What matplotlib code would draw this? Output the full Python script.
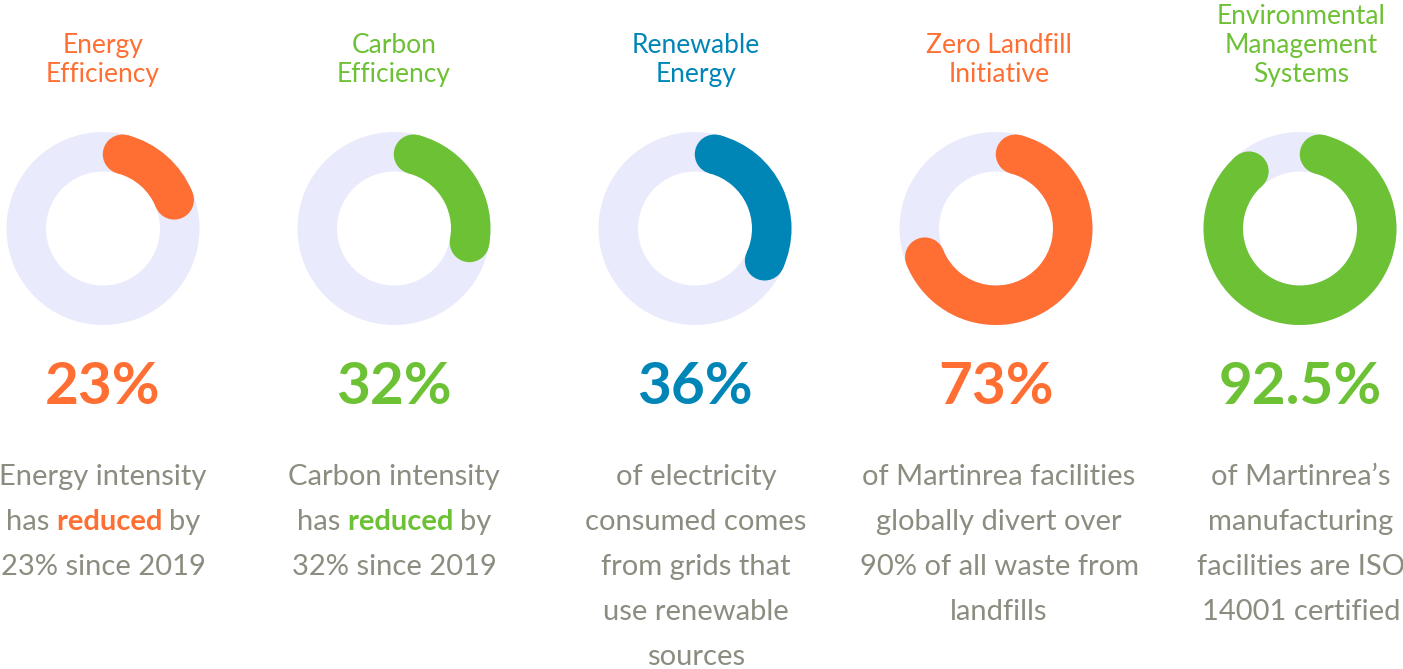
import matplotlib
matplotlib.use("Agg")
import matplotlib.pyplot as plt
from matplotlib.patches import Wedge, Circle
import numpy as np

plt.rcParams['font.family'] = ['Lato', 'DejaVu Sans']

# chart content
titles = [["Energy", "Efficiency"],
          ["Carbon", "Efficiency"],
          ["Renewable", "Energy"],
          ["Zero Landfill", "Initiative"],
          ["Environmental", "Management", "Systems"]]
values = [23, 32, 36, 73, 92.5]
value_text = ["23%", "32%", "36%", "73%", "92.5%"]
colors = ["#FF6F33", "#6CC134", "#0085B7", "#FF6F33", "#6CC134"]
descriptions = [
    ["Energy intensity", "has reduced by", "23% since 2019"],
    ["Carbon intensity", "has reduced by", "32% since 2019"],
    ["of electricity", "consumed comes", "from grids that", "use renewable", "sources"],
    ["of Martinrea facilities", "globally divert over", "90% of all waste from", "landfills"],
    ["of Martinrea\u2019s", "manufacturing", "facilities are ISO", "14001 certified"],
]
highlight = ["reduced", "reduced", None, None, None]

W, H = 1403, 669
fig = plt.figure(figsize=(W / 100, H / 100), dpi=100)
ax = fig.add_axes([0, 0, 1, 1])
ax.set_xlim(0, W)
ax.set_ylim(H, 0)
ax.axis('off')

col_x = [103, 394, 695, 996, 1300]
text_x = [103, 394, 696, 999, 1301]
ring_y = 228.5
r_out, r_in = 96.5, 57
ring_bg = "#E9EAFB"
gray = "#8C8D80"

ring_w = r_out - r_in
r_mid = (r_out + r_in) / 2
cap = np.degrees(ring_w / 2 / r_mid)

title_size = 19
desc_size = 21
num_size = 42

renderer = fig.canvas.get_renderer()


def text_width(s, **kw):
    t = ax.text(0, 0, s, **kw)
    w = t.get_window_extent(renderer).width
    t.remove()
    return w


def advance(s, **kw):
    return text_width(s + "x", **kw) - text_width("x", **kw)


for i in range(len(values)):
    cx = col_x[i]
    tx = text_x[i]
    c = colors[i]

    # titles, last line sits on a common baseline
    n = len(titles[i])
    for j, line in enumerate(titles[i]):
        y = 82 - 29 * (n - 1 - j)
        ax.text(tx, y, line, ha='center', va='baseline', fontsize=title_size, color=c)

    # donut: background ring + rounded progress arc
    ax.add_patch(Wedge((cx, ring_y), r_out, 0, 360, width=ring_w, color=ring_bg, lw=0))
    a0 = cap
    a1 = values[i] * 3.6 - cap
    ax.add_patch(Wedge((cx, ring_y), r_out, a0 - 90, a1 - 90, width=ring_w, color=c, lw=0))
    for a in (a0, a1):
        ar = np.radians(a)
        ax.add_patch(Circle((cx + r_mid * np.sin(ar), ring_y - r_mid * np.cos(ar)),
                            ring_w / 2, color=c, lw=0))

    # big number
    ax.text(cx, 404, value_text[i], ha='center', va='baseline', fontsize=num_size,
            fontweight='bold', color=c)

    # description
    for j, line in enumerate(descriptions[i]):
        y = 485 + 45 * j
        word = highlight[i]
        if word and word in line:
            pre, post = line.split(word)
            segs = [(pre, dict(color=gray)),
                    (word + " ", dict(color=c, fontweight='bold')),
                    (post.lstrip(), dict(color=gray))]
            advs = [advance(s, fontsize=desc_size, **kw) for s, kw in segs]
            x = tx - sum(advs) / 2
            for (s, kw), adv in zip(segs, advs):
                ax.text(x, y, s, ha='left', va='baseline', fontsize=desc_size, **kw)
                x += adv
        else:
            ax.text(tx, y, line, ha='center', va='baseline', fontsize=desc_size, color=gray)

fig.savefig("out.png", dpi=100, facecolor='white')
